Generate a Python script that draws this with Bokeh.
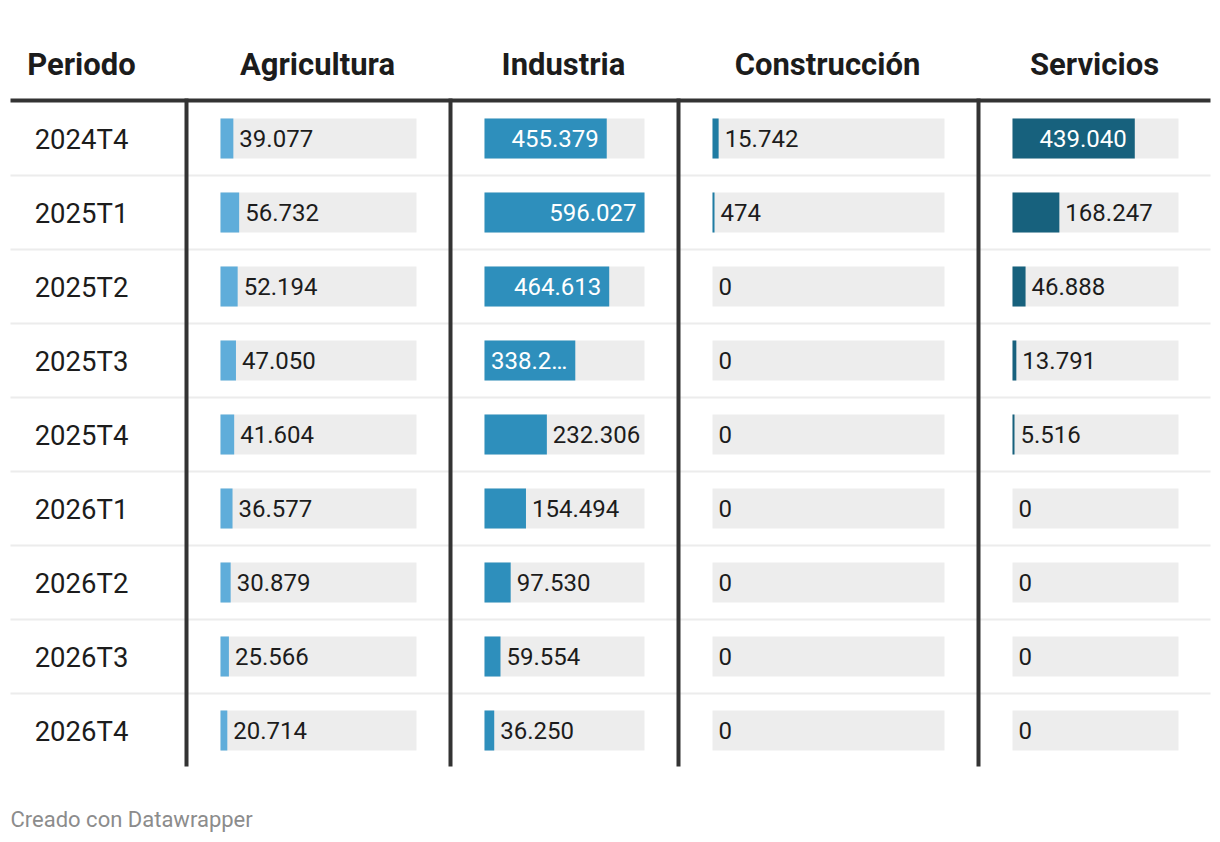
from bokeh.plotting import figure
from bokeh.models import Range1d
from bokeh.core.properties import value
from bokeh.embed import file_html
from bokeh.resources import INLINE

# ---------------- data ----------------
periods = ["2024T4", "2025T1", "2025T2", "2025T3", "2025T4",
           "2026T1", "2026T2", "2026T3", "2026T4"]
header_first = "Periodo"
sectors = ["Agricultura", "Industria", "Construcción", "Servicios"]
agricultura = [39077, 56732, 52194, 47050, 41604, 36577, 30879, 25566, 20714]
industria = [455379, 596027, 464613, 338215, 232306, 154494, 97530, 59554, 36250]
construccion = [15742, 474, 0, 0, 0, 0, 0, 0, 0]
servicios = [439040, 168247, 46888, 13791, 5516, 0, 0, 0, 0]
footer = "Creado con Datawrapper"

series = [agricultura, industria, construccion, servicios]
colors = ["#5fadda", "#2e8fbc", "#1f7ca3", "#17617d"]

# ---------------- layout (page pixels) ----------------
W, H = 1220, 842
OX, OY = 0, 0
ROW0, ROWH = 138, 74          # centre of first row, row pitch
BAR_H = 40
MIN_BAR_PX = 2
bounds = [10, 186, 450, 678, 978, 1210]
pad_l = [34, 34, 34, 34]
pad_r = [34, 34, 34, 32]
FONT = value("Roboto")
DARK = "#1c1c1c"

p = figure(width=W, height=H, output_backend="svg", toolbar_location=None,
           x_range=Range1d(OX, OX + W), y_range=Range1d(OY + H, OY),
           min_border=0, outline_line_color=None, background_fill_color="white")
p.axis.visible = False
p.grid.visible = False
p.extra_y_ranges = {"rows": Range1d(start=(OY + H - ROW0) / ROWH, end=(OY - ROW0) / ROWH)}

vmax = max(max(s) for s in series)
idx = list(range(len(periods)))

# row separators
p.segment(x0=[bounds[0]] * (len(periods) - 1), x1=[bounds[-1]] * (len(periods) - 1),
          y0=[i + 0.5 for i in idx[:-1]], y1=[i + 0.5 for i in idx[:-1]],
          y_range_name="rows", line_color="#ececec", line_width=2)

DIG, DOT, ELL = 13.48, 6.32, 15.0


def tw(s):
    return sum(DIG if c.isdigit() else (ELL if c == "…" else DOT) for c in s)


def fmt(v):
    return f"{v:,}".replace(",", ".")


for j, (name, vals, col) in enumerate(zip(sectors, series, colors)):
    L = bounds[j + 1] + pad_l[j]
    R = bounds[j + 2] - pad_r[j]
    k = vmax / (R - L)
    rname = f"s{j}"
    p.extra_x_ranges[rname] = Range1d(start=-(L - OX) * k, end=(OX + W - L) * k)

    # background track
    p.hbar(y=idx, left=0, right=[vmax] * len(idx), height=BAR_H / ROWH,
           x_range_name=rname, y_range_name="rows", fill_color="#ededed", line_color=None)
    # bars (non-zero values get a minimum visible width)
    rights = [max(v, MIN_BAR_PX * k) if v > 0 else 0 for v in vals]
    p.hbar(y=idx, left=0, right=rights, height=BAR_H / ROWH,
           x_range_name=rname, y_range_name="rows", fill_color=col, line_color=None)

    out_x, out_y, out_t = [], [], []
    in_x, in_y, in_t = [], [], []
    for i, v, r in zip(idx, vals, rights):
        s = fmt(v)
        bar_px = r / k
        remain = (R - L) - bar_px
        if remain >= tw(s) + 8:
            out_x.append(r); out_y.append(i); out_t.append(s)
        else:
            avail = bar_px - 12
            if tw(s) > avail:
                while s and tw(s + "…") > avail:
                    s = s[:-1]
                s = s + "…"
            in_x.append(r); in_y.append(i); in_t.append(s)
    if out_t:
        p.text(x=out_x, y=out_y, text=out_t, x_range_name=rname, y_range_name="rows",
               x_offset=6, y_offset=0, text_align="left", text_baseline="middle",
               text_font=FONT, text_font_size="24px", text_color=DARK)
    if in_t:
        p.text(x=in_x, y=in_y, text=in_t, x_range_name=rname, y_range_name="rows",
               x_offset=-8, y_offset=0, text_align="right", text_baseline="middle",
               text_font=FONT, text_font_size="24px", text_color="white")

    # header
    p.text(x=[(L + R) / 2 - 1], y=[64], text=[name], text_align="center",
           text_baseline="middle", text_font=FONT, text_font_size="31px",
           text_font_style="bold", text_color=DARK)

# first column
p.text(x=[81], y=[64], text=[header_first], text_align="center",
       text_baseline="middle", text_font=FONT, text_font_size="31px",
       text_font_style="bold", text_color=DARK)
p.text(x=[81] * len(periods), y=idx, text=periods, y_range_name="rows",
       y_offset=1, text_align="center", text_baseline="middle",
       text_font=FONT, text_font_size="27.5px", text_color=DARK)

# header rule and column rules
p.segment(x0=[bounds[0]], x1=[bounds[-1]], y0=[100], y1=[100],
          line_color="#333333", line_width=4)
p.segment(x0=bounds[1:5], x1=bounds[1:5], y0=[98] * 4, y1=[766] * 4,
          line_color="#333333", line_width=4)

# footer
p.text(x=[10], y=[819], text=[footer], text_align="left", text_baseline="middle",
       text_font=FONT, text_font_size="22px", text_color="#8c8c8c")

open("out.html", "w").write(file_html(p, INLINE))
